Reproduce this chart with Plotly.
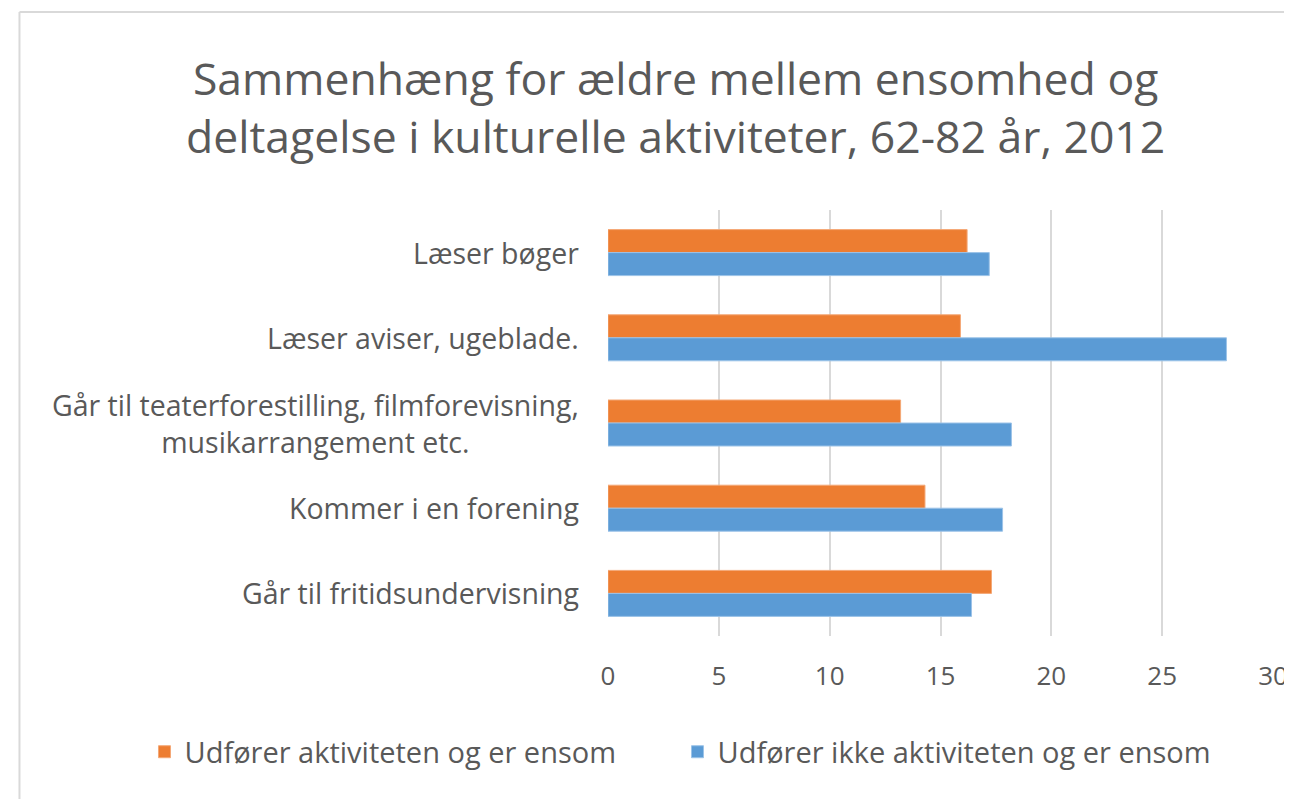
import plotly.graph_objects as go

# Kategorier (oppefra og ned) og værdier
categories = [
    "Læser bøger",
    "Læser aviser, ugeblade.",
    "Går til teaterforestilling, filmforevisning,<br>musikarrangement etc.",
    "Kommer i en forening",
    "Går til fritidsundervisning",
]
udfoerer_ensom = [16.2, 15.9, 13.2, 14.3, 17.3]
ikke_udfoerer_ensom = [17.2, 27.9, 18.2, 17.8, 16.4]
x_ticks = [0, 5, 10, 15, 20, 25, 30]

title_text = "Sammenhæng for ældre mellem ensomhed og<br>deltagelse i kulturelle aktiviteter, 62-82 år, 2012"

text_color = "#595959"
grid_color = "#d9d9d9"
font_family = "'Open Sans', Lato, sans-serif"

fig = go.Figure()
fig.add_trace(go.Bar(
    y=categories, x=udfoerer_ensom, orientation="h",
    name="Udfører aktiviteten og er ensom",
    marker=dict(color="#ED7D31", line=dict(color="#f4a877", width=1)),
))
fig.add_trace(go.Bar(
    y=categories, x=ikke_udfoerer_ensom, orientation="h",
    name="Udfører ikke aktiviteten og er ensom",
    marker=dict(color="#5B9BD5", line=dict(color="#9cc3e8", width=1)),
))

# kategori-tekster som annotationer, så linjerne centreres som i Excel
for cat in categories:
    fig.add_annotation(
        x=0, xref="paper", y=cat, yref="y", text=cat, showarrow=False,
        xanchor="right", xshift=-27, align="center",
        font=dict(family=font_family, size=28.5, color=text_color),
    )

# titel (annotation, så begge linjer placeres rigtigt)
fig.add_annotation(
    x=0.1013, xref="paper", y=1.242, yref="paper", text=title_text, showarrow=False,
    xanchor="center", yanchor="middle", align="center",
    font=dict(family=font_family, size=44.5, color=text_color),
)

# grå ramme om diagramområdet (venstre og top)
fig.add_shape(type="line", xref="paper", yref="paper", x0=-0.885, x1=-0.885, y0=-0.5, y1=1.465,
              line=dict(color=grid_color, width=2))
fig.add_shape(type="line", xref="paper", yref="paper", x0=-0.885, x1=1.1, y0=1.465, y1=1.465,
              line=dict(color=grid_color, width=2))

fig.update_layout(
    width=1292, height=799,
    margin=dict(l=600, r=21, t=202, b=171),
    paper_bgcolor="white", plot_bgcolor="white",
    barmode="group", bargap=0.46, bargroupgap=0,
    legend=dict(
        orientation="h", x=-0.697, xanchor="left", y=-0.272, yanchor="middle",
        font=dict(family=font_family, size=29, color=text_color),
        entrywidth=488, itemwidth=30,
    ),
    xaxis=dict(
        range=[0, 30], tickvals=x_ticks, showgrid=True, gridcolor=grid_color, gridwidth=2,
        zeroline=False, showline=False, ticks="",
        ticklabelstandoff=22, ticklabeloverflow="allow",
        tickfont=dict(family=font_family, size=26, color=text_color),
    ),
    yaxis=dict(
        autorange="reversed", showticklabels=False, showgrid=False, zeroline=False, ticks="",
    ),
)

fig.write_html("out.html")
